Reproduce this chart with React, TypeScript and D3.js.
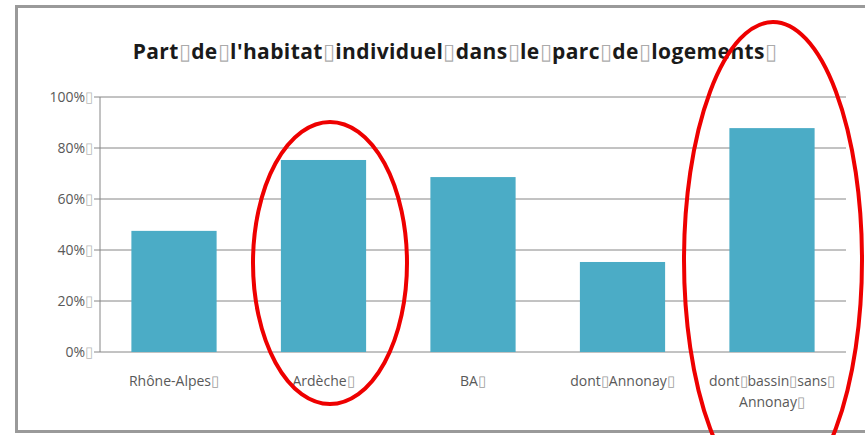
import React from "react";
import * as d3 from "d3";

// values (share of individual housing)
const categories = ["Rhône-Alpes", "Ardèche", "BA", "dont Annonay", "dont bassin sans|Annonay"];
const values = [0.475, 0.753, 0.686, 0.353, 0.878];
const yTicks = [0, 0.2, 0.4, 0.6, 0.8, 1];
const title = "Part de l'habitat individuel dans le parc de logements";

const W = 865;
const H = 435;
const margin = { top: 97, right: 19, bottom: 83, left: 100 };
const BOX = "\u25AF";
const font = "'Open Sans', 'Liberation Sans', sans-serif";

// words separated by the little "missing glyph" boxes of the original
const boxed = (s: string, size: number, color: string) =>
  s.split(" ").map((w, i) => (
    <React.Fragment key={i}>
      <tspan>{w}</tspan>
      <tspan fontSize={size * 1.05} fill={color} fillOpacity={0.5} fontWeight="normal">
        {BOX}
      </tspan>
    </React.Fragment>
  ));

const App = () => {
  const x = d3
    .scaleBand()
    .domain(categories)
    .range([margin.left, W - margin.right])
    .paddingInner(0.43)
    .paddingOuter(0.21);

  const y = d3
    .scaleLinear()
    .domain([0, 1])
    .range([H - margin.bottom, margin.top]);

  const pct = d3.format(".0%");

  return (
    <svg width={W} height={H} style={{ position: "absolute", left: 0, top: 0, background: "#fff" }}>
      {/* outer frame */}
      <rect x={16.5} y={6.5} width={W + 10} height={425} fill="none" stroke="#9a9a9a" strokeWidth={3} />

      {/* title */}
      <text
        x={455}
        y={59}
        textAnchor="middle"
        fontFamily={font}
        fontWeight="bold"
        fontSize={21}
        letterSpacing={0.4}
        fill="#1a1a1a"
      >
        {boxed(title, 21, "#555")}
      </text>

      {/* gridlines + y labels */}
      {yTicks.map((t) => (
        <g key={t}>
          <line x1={margin.left} x2={W - margin.right} y1={y(t)} y2={y(t)} stroke="#868686" strokeWidth={1} />
          <line x1={margin.left - 6} x2={margin.left} y1={y(t)} y2={y(t)} stroke="#868686" />
          <text
            x={margin.left - 7}
            y={y(t)}
            dy="0.35em"
            textAnchor="end"
            fontFamily={font}
            fontSize={14}
            fill="#595959"
          >
            {pct(t)}
            <tspan fontSize={15} fill="#888" fillOpacity={0.6}>{BOX}</tspan>
          </text>
        </g>
      ))}
      <line x1={margin.left} x2={margin.left} y1={y(1)} y2={y(0)} stroke="#868686" />

      {/* bars */}
      {categories.map((c, i) => (
        <rect key={c} x={x(c)} y={y(values[i])} width={x.bandwidth()} height={y(0) - y(values[i])} fill="#4bacc6" />
      ))}

      {/* category labels */}
      {categories.map((c) => {
        const lines = c.split("|");
        const cx = (x(c) as number) + x.bandwidth() / 2;
        return (
          <text key={c} x={cx} y={386} textAnchor="middle" fontFamily={font} fontSize={14} fill="#595959">
            {lines.map((l, j) => (
              <tspan key={j} x={cx} dy={j === 0 ? 0 : 21}>
                {boxed(l, 14, "#333")}
              </tspan>
            ))}
          </text>
        );
      })}

      {/* red hand-drawn annotations */}
      <ellipse cx={330} cy={263} rx={77} ry={141} fill="none" stroke="#ee0000" strokeWidth={4} />
      <ellipse cx={773} cy={260} rx={89} ry={238} fill="none" stroke="#ee0000" strokeWidth={4} />
    </svg>
  );
};

export default App;
